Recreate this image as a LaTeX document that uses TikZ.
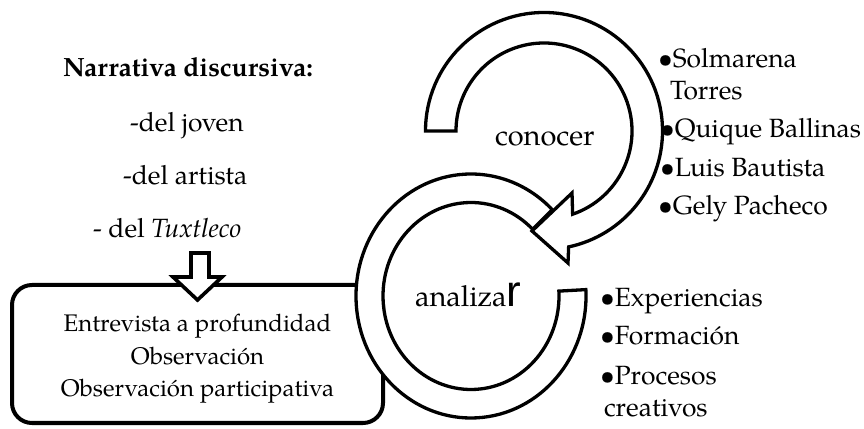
\documentclass[tikz,border=0pt]{standalone}
\usepackage{fontspec}
\setmainfont{texgyrepagella}[Extension=.otf, UprightFont=*-regular, BoldFont=*-bold, ItalicFont=*-italic, BoldItalicFont=*-bolditalic]
\newfontfamily\rfont{Liberation Sans}
\begin{document}
\begin{tikzpicture}[x=1pt,y=1pt,
  ring/.style={draw=black, line width=3.3pt, fill=white, line join=miter},
  txt/.style={inner sep=0pt, outer sep=0pt, anchor=base west, font=\fontsize{26.4}{32}\selectfont},
  boxtxt/.style={inner sep=0pt, outer sep=0pt, anchor=base, font=\fontsize{24}{32}\selectfont},
  bigtxt/.style={inner sep=0pt, outer sep=0pt, anchor=base west, font=\fontsize{29}{34}\selectfont},
  framebox/.style={draw=black, line width=4pt, rounded corners=20pt, fill=white, inner sep=0pt, outer sep=0pt},
  blockarrow/.style={draw=black, line width=3.6pt, fill=white, line join=miter}]
\path[use as bounding box] (0,0) rectangle (864,428);
\coordinate (c1) at (544,297);
\coordinate (c2) at (471,132);
% method box
\node[framebox, minimum width=371pt, minimum height=138pt, anchor=north west] (box) at (12,143) {};
% lower ring (analizar)
\draw[ring] ([shift={(3:115 and 122)}]c2) arc[start angle=3, end angle=-315, x radius=115, y radius=122]
  -- ([shift={(45.5:88 and 93.5)}]c2) arc[start angle=-314.5, end angle=3, x radius=88, y radius=93.5] -- cycle;
% upper arrow (conocer)
\draw[ring] ([shift={(180:118.5)}]c1) arc[start angle=180, end angle=-78, radius=118.5]
  -- (568,165) -- (532,197) -- (572,235)
  -- ([shift={(-71:88)}]c1) arc[start angle=-71, end angle=180, radius=88] -- cycle;
% left texts
\node[txt, font=\fontsize{26.4}{32}\selectfont\bfseries] (narr) at (63,351) {Narrativa discursiva:};
\node[txt] (joven) at (130,296) {-del joven};
\node[txt] (artista) at (123,243) {-del artista};
\node[txt] (tuxt) at (93,190) {- del \textit{Tuxtleco}};
% down block arrow
\draw[blockarrow] (191,175) -- (209,175) -- (209,151) -- (222,151) -- (197.5,128) -- (173,151) -- (191,151) -- cycle;
% box text
\node[boxtxt] (e1) at (197.5,96.3) {Entrevista a profundidad};
\node[boxtxt] (e2) at (197.5,63) {Observación};
\node[boxtxt] (e3) at (197.5,31.3) {Observación participativa};
% circle labels
\node[bigtxt] (conocer) at (495,282.3) {conocer};
\node[bigtxt] (analizar) at (415,121) {analiza{\rfont\fontsize{44}{50}\selectfont r}};
% upper list
\node[txt] (p1) at (658,360) {•Solmarena};
\node[txt] (p1b) at (670,328) {Torres};
\node[txt] (p2) at (660,290) {•Quique Ballinas};
\node[txt] (p3) at (660,251) {•Luis Bautista};
\node[txt] (p4) at (658,213) {•Gely Pacheco};
% lower list
\node[txt] (q1) at (600,121) {•Experiencias};
\node[txt] (q2) at (600,83) {•Formación};
\node[txt] (q3) at (600,43) {•Procesos};
\node[txt] (q3b) at (604,11) {creativos};
\end{tikzpicture}
\end{document}
